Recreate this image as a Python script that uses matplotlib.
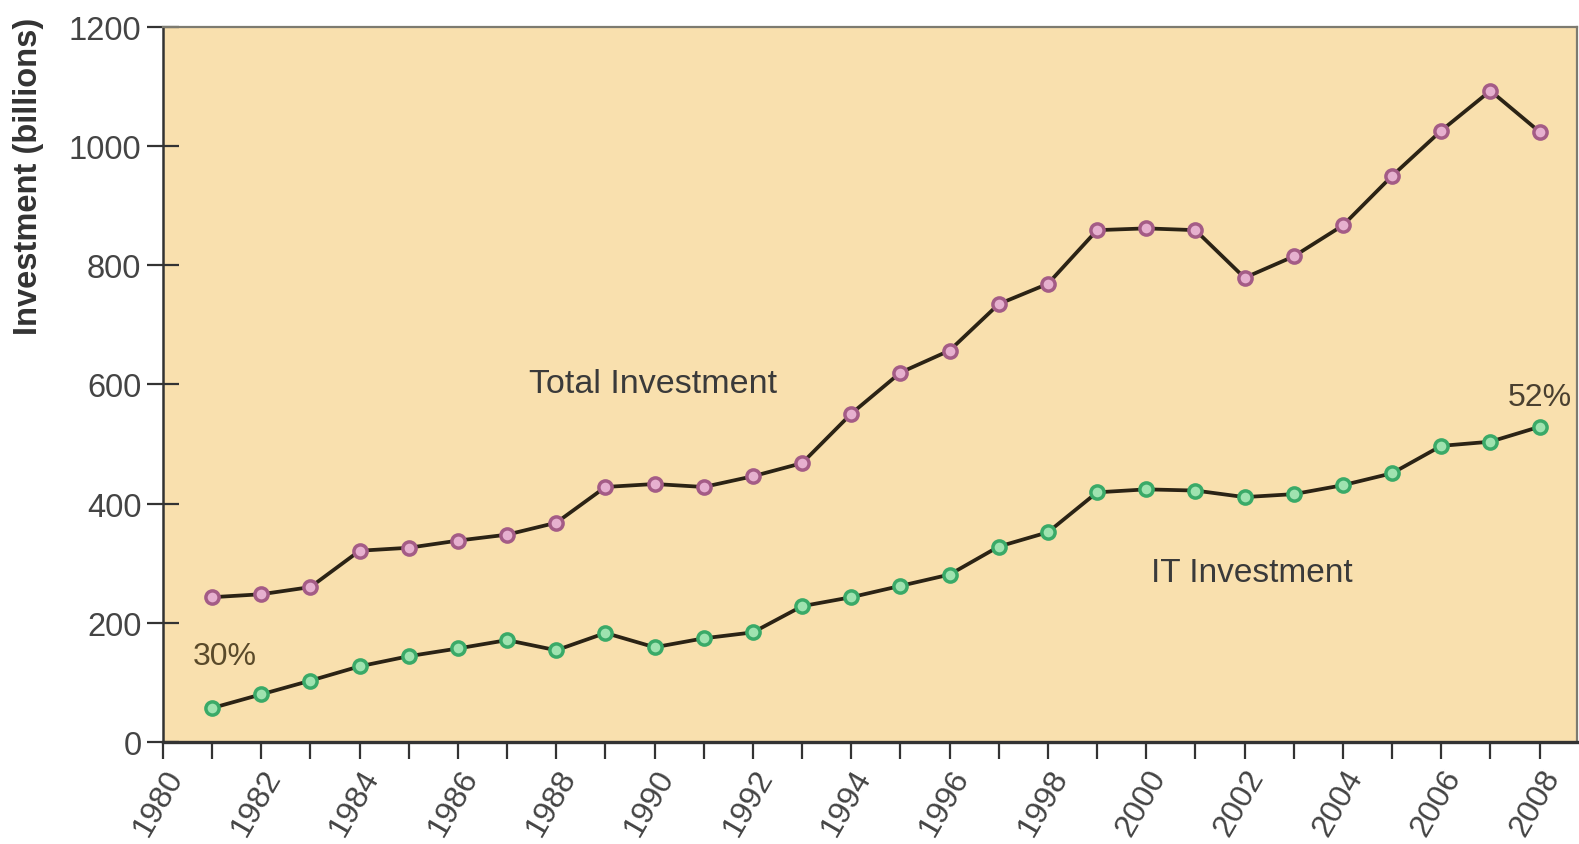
import matplotlib
matplotlib.use('Agg')
import matplotlib.pyplot as plt
import matplotlib.transforms as mtransforms
from matplotlib.ticker import MultipleLocator
import numpy as np

years = list(range(1981, 2009))
total_investment = [243, 248, 260, 321, 326, 338, 348, 368, 428, 433,
                    428, 446, 468, 551, 620, 657, 735, 769, 859, 862,
                    859, 779, 815, 867, 950, 1026, 1093, 1024]
it_investment = [57, 80, 103, 127, 144, 157, 171, 154, 183, 159,
                 174, 184, 228, 243, 262, 281, 328, 352, 419, 424,
                 422, 411, 416, 431, 451, 497, 504, 529]
x_ticks = list(range(1980, 2009, 2))
y_ticks = [0, 200, 400, 600, 800, 1000, 1200]


def main():
    plt.rcParams['font.family'] = ['Liberation Sans', 'DejaVu Sans']
    fig = plt.figure(figsize=(15.79, 8.45), dpi=100)
    ax = fig.add_axes([0.1032, 0.1207, 0.8958, 0.8462])
    ax.set_facecolor('#f9e0ae')

    line_col = '#2b2315'
    ax.plot(years, total_investment, color=line_col, linewidth=2.7, marker='o',
            markersize=9.5, markerfacecolor='#e6b0cf', markeredgecolor='#a45c86',
            markeredgewidth=2.5, zorder=3)
    ax.plot(years, it_investment, color=line_col, linewidth=2.7, marker='o',
            markersize=9.5, markerfacecolor='#9fe3b0', markeredgecolor='#3aaa68',
            markeredgewidth=2.5, zorder=3)

    ax.text(1987.45, 602, 'Total Investment', fontsize=24.5, color='#3a3a3a', va='center')
    ax.text(2000.1, 285, 'IT Investment', fontsize=24, color='#3a3a3a', va='center')
    ax.text(1980.6, 144, '30%', fontsize=23, color='#5a4a2a', va='center')
    ax.text(2008.0, 579, '52%', fontsize=23, color='#4a4030', va='center', ha='center')

    ax.set_xlim(1980, 2008.77)
    ax.set_ylim(0, 1200)
    ax.set_xticks(x_ticks)
    ax.xaxis.set_minor_locator(MultipleLocator(1))
    ax.set_yticks(y_ticks)
    ax.set_xticklabels([str(y) for y in x_ticks], rotation=60, ha='right',
                       va='top', rotation_mode='anchor')
    shift = mtransforms.ScaledTranslation(10 / 100, 8 / 100, fig.dpi_scale_trans)
    for lab in ax.get_xticklabels():
        lab.set_transform(lab.get_transform() + shift)

    ax.tick_params(axis='x', which='both', direction='out', length=12, width=1.6,
                   colors='#333333', labelsize=23, labelcolor='#444444', pad=4)
    ax.tick_params(axis='y', direction='inout', length=23, width=1.6,
                   colors='#333333', labelsize=23.5, labelcolor='#444444', pad=4)

    ax.set_ylabel('Investment (billions)', fontsize=23.5, fontweight='bold',
                  color='#333333')
    ax.yaxis.set_label_coords(-0.084, 0.793)

    ax.spines['left'].set_color('#333333')
    ax.spines['left'].set_linewidth(1.8)
    ax.spines['bottom'].set_color('#333333')
    ax.spines['bottom'].set_linewidth(2.4)
    for s in ['top', 'right']:
        ax.spines[s].set_color('#7d7b70')
        ax.spines[s].set_linewidth(1.6)

    fig.savefig('out.png', dpi=100, facecolor='white')


if __name__ == '__main__':
    main()
